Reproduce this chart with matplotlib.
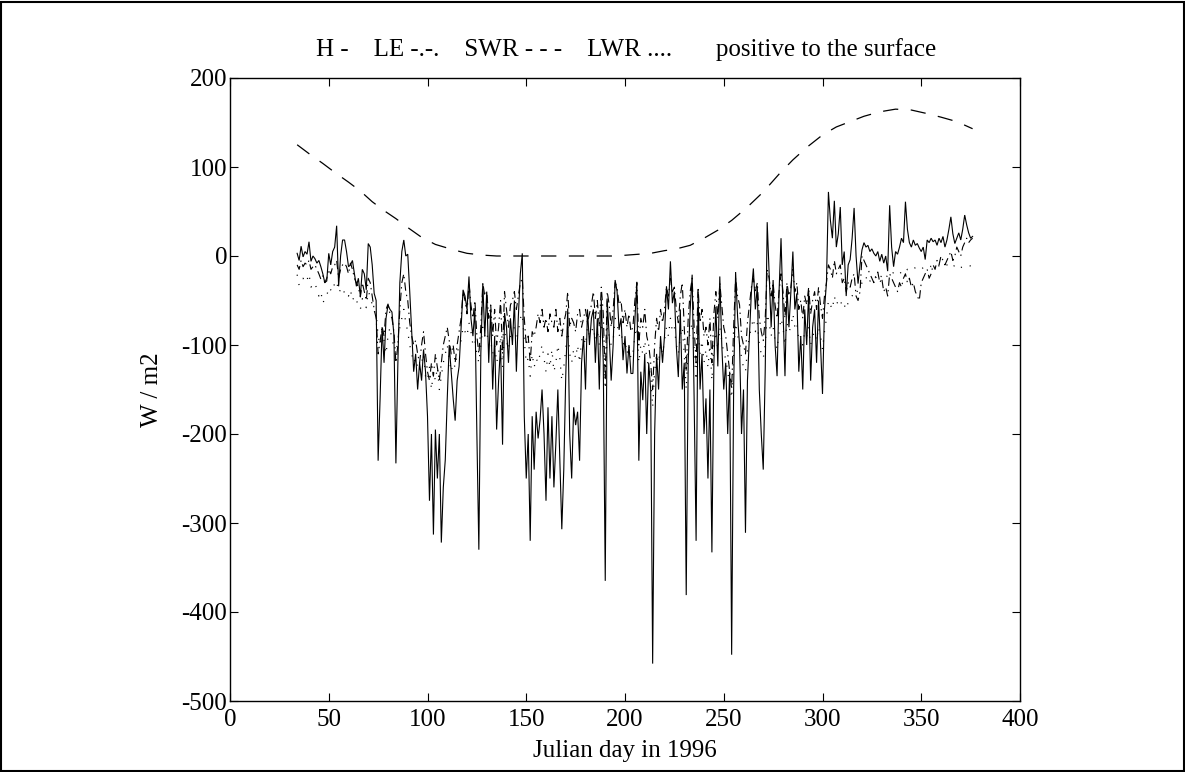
import numpy as np
import matplotlib
matplotlib.use("Agg")
import matplotlib.pyplot as plt
from matplotlib.patches import Rectangle

plt.rcParams['font.family'] = ['Liberation Serif', 'DejaVu Serif']
plt.rcParams['axes.unicode_minus'] = False
plt.rcParams['lines.scale_dashes'] = False

# ---- data ----
first_day = 34
h_rows = [
    [3, -5, 11, -1, 5, 2, 16, -6, 0, -3],
    [-8, -5, -12, -20, -30, -28, 3, -10, 5, 10],
    [34, -34, 0, 18, 18, 5, -12, -10, -5, -20],
    [-34, -25, -45, -15, -20, -38, 14, 10, -10, -42],
    [-50, -230, -160, -80, -120, -70, -55, -60, -63, -89],
    [-233, -120, -30, 5, 18, 0, 2, -40, -85, -130],
    [-110, -150, -120, -140, -105, -130, -180, -275, -200, -313],
    [-195, -250, -200, -322, -260, -229, -160, -100, -130, -160],
    [-185, -140, -124, -80, -38, -45, -60, -23, -70, -90],
    [-60, -200, -330, -110, -31, -90, -40, -120, -60, -150],
    [-90, -195, -140, -100, -212, -64, -80, -120, -70, -100],
    [-50, -130, -68, -20, 3, -180, -250, -200, -320, -180],
    [-240, -175, -205, -184, -150, -200, -275, -170, -250, -180],
    [-260, -210, -150, -230, -307, -240, -135, -59, -200, -250],
    [-170, -190, -175, -230, -120, -90, -150, -60, -100, -70],
    [-60, -120, -70, -150, -49, -120, -365, -50, -90, -140],
    [-100, -27, -40, -83, -70, -117, -90, -132, -100, -132],
    [-132, -72, -29, -230, -130, -162, -110, -200, -120, -150],
    [-458, -200, -110, -150, -90, -120, -90, -34, -60, -6],
    [-53, -40, -102, -136, -60, -150, -120, -381, -120, -60],
    [-21, -160, -320, -40, -150, -110, -200, -160, -250, -150],
    [-333, -120, -57, -124, -23, -100, -150, -120, -200, -130],
    [-448, -150, -18, -68, -100, -200, -150, -311, -140, -90],
    [-40, -14, -60, -34, -150, -200, -240, -128, 38, -20],
    [-80, -27, -100, -135, -40, 20, -60, -135, -34, -80],
    [-40, 5, -60, -42, -130, -90, -150, -60, -100, -40],
    [-140, -80, -60, -120, -50, -100, -155, -60, -30, 72],
    [40, 20, 62, 10, 25, 55, -10, 5, -45, -10],
    [-4, 20, 54, 0, -31, -10, 7, 15, 10, 12],
    [5, 8, 3, 0, 5, -6, 2, -8, 0, -17],
    [57, 10, -12, 5, 2, 10, 20, 15, 61, 30],
    [15, 10, 18, 12, 14, 9, 5, 10, -4, 18],
    [15, 20, 16, 18, 12, 20, 15, 22, 10, 18],
    [30, 44, 25, 14, 20, 26, 18, 30, 46, 35],
    [26, 20, 22],
]
le_rows = [
    [-10, -15, -5, -12, -8, -10, -5, -15, -12, -10],
    [-15, -20, -26, -22, -30, -25, -15, -20, -12, -10],
    [-5, -25, -15, -10, -8, -12, -20, -8, -15, -25],
    [-30, -35, -46, -30, -40, -50, -25, -30, -45, -60],
    [-70, -110, -96, -79, -90, -60, -54, -65, -70, -85],
    [-120, -100, -60, -30, -20, -40, -50, -75, -90, -100],
    [-95, -110, -120, -100, -85, -110, -130, -140, -120, -135],
    [-110, -125, -140, -120, -100, -90, -80, -95, -110, -100],
    [-120, -100, -85, -70, -40, -50, -65, -30, -55, -70],
    [-50, -90, -110, -80, -30, -45, -40, -70, -55, -90],
    [-60, -100, -80, -50, -110, -40, -60, -80, -55, -50],
    [-40, -60, -45, -30, -25, -70, -100, -90, -120, -85],
    [-90, -80, -65, -75, -60, -80, -70, -85, -65, -75],
    [-80, -60, -85, -70, -90, -75, -65, -40, -80, -70],
    [-75, -85, -65, -60, -80, -70, -60, -75, -65, -55],
    [-40, -70, -50, -80, -35, -65, -140, -40, -55, -80],
    [-60, -30, -35, -55, -50, -75, -60, -80, -65, -85],
    [-80, -50, -30, -100, -70, -80, -60, -90, -100, -120],
    [-150, -100, -70, -85, -60, -75, -60, -35, -45, -25],
    [-40, -35, -60, -75, -45, -30, -80, -130, -70, -40],
    [-25, -80, -120, -35, -75, -60, -90, -80, -100, -70],
    [-120, -65, -40, -70, -30, -55, -80, -90, -110, -130],
    [-150, -80, -25, -45, -55, -90, -100, -110, -75, -55],
    [-35, -25, -40, -30, -70, -85, -95, -70, -15, -25],
    [-45, -30, -55, -70, -40, -20, -40, -70, -30, -45],
    [-35, -15, -40, -30, -60, -50, -70, -45, -55, -35],
    [-65, -50, -40, -60, -35, -55, -70, -45, -30, -10],
    [-15, -25, -5, -20, -15, -10, -30, -25, -40, -30],
    [-35, -25, -20, -45, -50, -40, 0, -5, -10, -15],
    [-20, -25, -30, -22, -18, -30, -25, -40, -35, -45],
    [-20, -25, -30, -35, -40, -30, -35, -25, -20, -30],
    [-25, -35, -30, -40, -45, -50, -30, -25, -20, -15],
    [-25, -20, -10, -15, -5, -10, 0, -5, -10, -5],
    [0, 5, -5, 0, 10, 5, 0, 10, 15, 20],
    [15, 18, 20],
]
lwr_rows = [
    [-21, -33, -28, -25, -30, -27, -20, -35, -32, -30],
    [-38, -45, -40, -53, -48, -45, -35, -38, -40, -30],
    [-28, -41, -38, -35, -42, -40, -45, -38, -50, -45],
    [-50, -55, -60, -48, -52, -58, -40, -45, -55, -62],
    [-65, -90, -100, -85, -95, -110, -90, -80, -95, -100],
    [-110, -95, -80, -70, -60, -75, -85, -100, -110, -120],
    [-115, -125, -130, -120, -110, -135, -140, -125, -150, -130],
    [-140, -125, -150, -135, -120, -110, -100, -115, -130, -120],
    [-125, -110, -100, -95, -80, -85, -90, -75, -85, -100],
    [-95, -110, -120, -100, -80, -90, -85, -100, -95, -110],
    [-100, -120, -110, -90, -125, -85, -95, -105, -90, -85],
    [-80, -95, -85, -70, -65, -95, -120, -115, -135, -110],
    [-125, -115, -120, -110, -100, -115, -130, -110, -125, -105],
    [-130, -120, -100, -115, -140, -125, -105, -80, -110, -120],
    [-105, -115, -100, -120, -95, -90, -100, -80, -90, -85],
    [-80, -95, -85, -100, -75, -90, -150, -80, -90, -100],
    [-95, -70, -75, -90, -85, -100, -95, -110, -100, -115],
    [-110, -90, -80, -120, -100, -110, -95, -115, -125, -135],
    [-170, -130, -110, -120, -100, -110, -95, -80, -90, -70],
    [-85, -80, -100, -110, -90, -80, -110, -150, -100, -85],
    [-75, -105, -140, -85, -110, -95, -120, -105, -125, -100],
    [-140, -100, -85, -105, -80, -95, -110, -115, -130, -145],
    [-160, -110, -75, -90, -95, -115, -125, -130, -105, -90],
    [-80, -70, -85, -75, -100, -110, -115, -100, -65, -75],
    [-90, -80, -95, -105, -85, -70, -80, -100, -75, -85],
    [-80, -65, -80, -75, -95, -90, -100, -85, -90, -80],
    [-100, -90, -85, -95, -80, -90, -105, -85, -70, -50],
    [-55, -60, -45, -55, -50, -48, -58, -55, -60, -52],
    [-50, -45, -40, -42, -38, -35, -30, -25, -23, -31],
    [-28, -30, -26, -24, -28, -25, -22, -26, -24, -22],
    [-20, -22, -18, -20, -21, -20, -18, -16, -18, -15],
    [-16, -14, -15, -13, -12, -14, -15, -13, -12, -11],
    [-10, -12, -11, -10, -12, -11, -10, -12, -11, -10],
    [-12, -11, -13, -10, -12, -11, -13, -12, -11, -12],
    [-12, -11, -12],
]
swr_days = [34, 40, 47, 53, 60, 66, 72, 78, 84, 90, 97, 104, 113, 120, 128, 135,
            150, 165, 180, 195, 201, 207, 213, 220, 226, 233, 240, 247, 254, 262,
            270, 278, 285, 292, 300, 307, 314, 321, 329, 337, 345, 353, 360, 368, 376]
swr_vals = [125, 115, 104, 94, 83, 73, 61, 51, 42, 32, 21, 13, 7, 3, 1, 0,
            0, 0, 0, 0, 1, 2, 3, 6, 8, 12, 20, 29, 40, 55,
            72, 92, 108, 122, 136, 145, 151, 157, 162, 165, 164, 160, 156, 151, 143]

title_text = "H -    LE -.-.    SWR - - -    LWR ....       positive to the surface"
x_ticks = [0, 50, 100, 150, 200, 250, 300, 350, 400]
y_ticks = [-500, -400, -300, -200, -100, 0, 100, 200]

H = [v for r in h_rows for v in r]
LE = [v for r in le_rows for v in r]
LWR = [v for r in lwr_rows for v in r]
days = np.arange(first_day, first_day + len(H))

# ---- figure ----
FS = 18
fig = plt.figure(figsize=(11.85, 7.72), dpi=100)
ax = fig.add_axes([230 / 1185, 1 - 701 / 772, 790 / 1185, 623 / 772])

ax.plot(days, H, color='black', lw=0.8, solid_joinstyle='miter')
ax.plot(days[:len(LE)], LE, color='black', lw=0.8, linestyle=(0, (6, 3, 1, 3)))
ax.plot(swr_days, swr_vals, color='black', lw=0.9, linestyle=(0, (11, 9)))
ax.plot(days[:len(LWR)], LWR, color='black', lw=0.9, linestyle=(0, (0.8, 6)))

ax.set_xlim(0, 400)
ax.set_ylim(-500, 200)
ax.set_xticks(x_ticks)
ax.set_yticks(y_ticks)
ax.tick_params(direction='in', top=True, right=True, length=6, width=0.8,
               labelsize=FS)
ax.tick_params(axis='x', pad=6)
ax.tick_params(axis='y', pad=2)
for s in ax.spines.values():
    s.set_linewidth(1.0)

ax.set_xlabel("Julian day in 1996", fontsize=FS, labelpad=6)
ax.set_ylabel("W / m2", fontsize=FS, labelpad=13)
fig.text(626 / 1185, 1 - 50 / 772, title_text, fontsize=FS, ha='center', va='center')

fig.patches.append(Rectangle((0.001, 0.001), 0.998, 0.997, transform=fig.transFigure,
                             fill=False, edgecolor='black', lw=1.5))

fig.savefig("out.png", dpi=100)
